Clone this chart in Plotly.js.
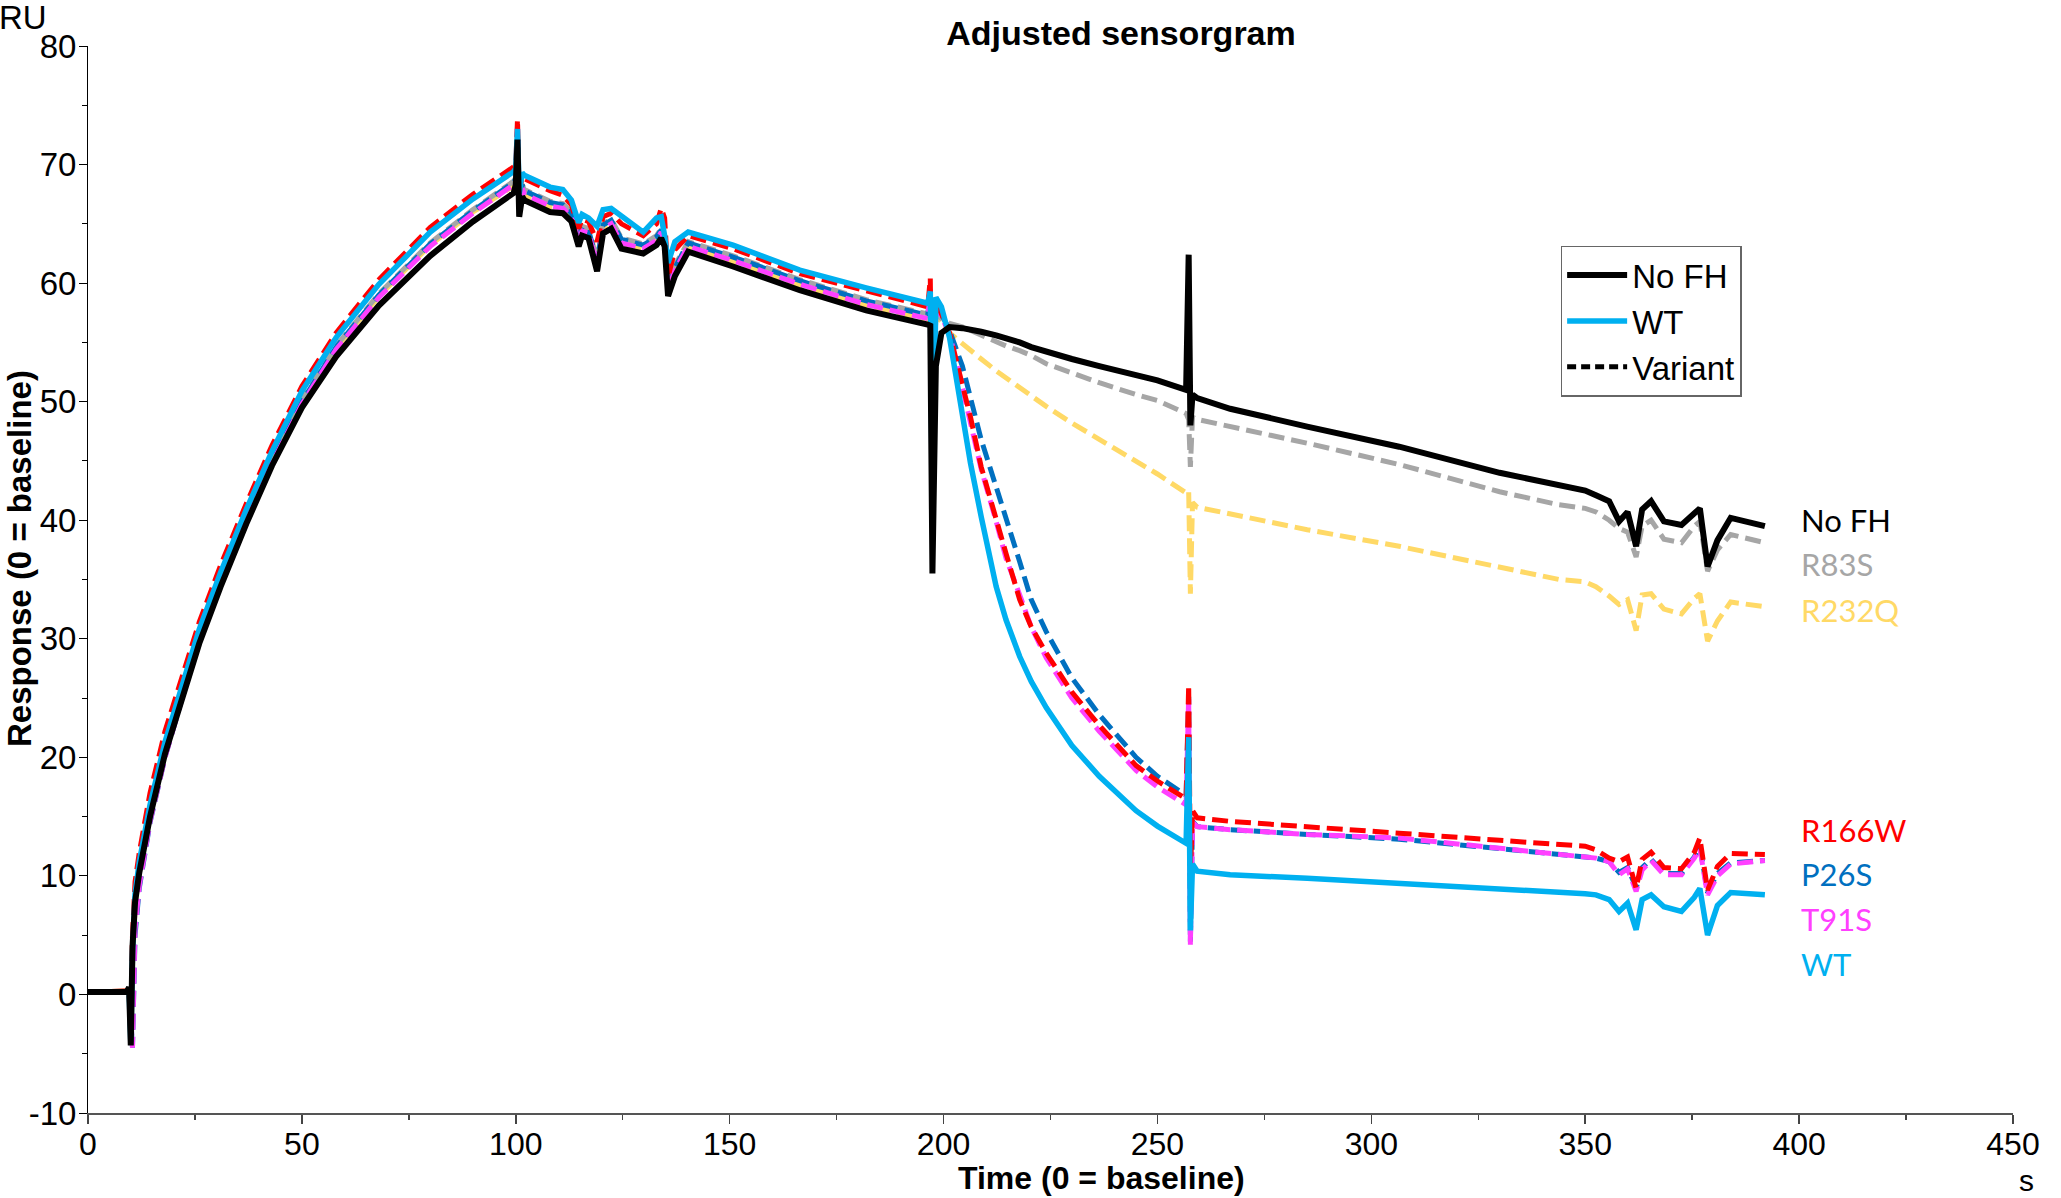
<!DOCTYPE html>
<html>
<head>
<meta charset="utf-8">
<script src="https://cdn.plot.ly/plotly-3.0.1.min.js"></script>
<style>
  html, body { margin: 0; padding: 0; background: #fff; }
  #chart { width: 2061px; height: 1198px; }
</style>
</head>
<body>
<div id="chart"></div>
<script>
// Tempo (s) comum a todas as curvas
const time = [
  0, 9, 9.6, 10, 10.4, 11, 12, 14.5, 18, 22, 26, 31, 37, 43, 50, 58, 68, 80, 90, 99.5,
  100, 100.4, 100.8, 101.5,
  102, 108, 111, 113, 114.3, 114.7, 115.5, 117, 119, 120.4, 122.3, 124.7, 129.8, 132.9, 134, 134.8, 135.6, 137.2, 140.3,
  150.8, 166.4, 181.9, 196.3,
  196.9, 197.4, 198.2, 199.5, 201.4,
  204.4, 206.3, 208.8, 212.3, 214.6, 217.8, 220.5, 224, 230, 236.4, 245, 250, 256.7,
  257.3, 257.7, 258.2, 259.3,
  267, 285, 306.5, 330, 343.9, 350,
  352.5, 355.6, 357.9, 359.9, 361.9, 363.3, 365.4, 368.4, 372.5, 375.5, 376.8, 378.6, 380.9, 384, 392
];

// Resposta (RU) de cada amostra
const noFH = [
  0.2, 0.2, 0.6, -4.3, 4, 7.8, 10.3, 15, 20.3, 25, 29.6, 34.4, 39.7, 44.6, 49.5, 53.8, 58.1, 62.3, 65.2, 67.6,
  68.3, 72.1, 65.6, 67.3,
  67.0, 66.0, 65.9, 65.2, 63.5, 63.1, 64.0, 63.8, 61.0, 64.2, 64.6, 62.9, 62.5, 63.2, 63.8, 63.1, 58.9, 60.6, 62.65,
  61.4, 59.4, 57.7, 56.5,
  56.4, 35.5, 53, 55.8, 56.3,
  56.2, 56.1, 55.9, 55.6, 55.4, 55.0, 54.6, 54.2, 53.6, 53.0, 52.2, 51.8, 51.0,
  62.4, 48.0, 50.6, 50.3,
  49.4, 47.9, 46.2, 44.0, 43.0, 42.5,
  42.1, 41.6, 39.9, 40.7, 37.8, 40.9, 41.6, 39.9, 39.6, 40.6, 41.0, 36.1, 38.3, 40.2, 39.5
];
const wt = [
  0.2, 0.2, 0.4, -4, 3.5, 8.5, 11.2, 16, 21.3, 26.1, 30.8, 35.6, 40.9, 45.8, 50.9, 55.4, 59.9, 64.3, 67.1, 69.4,
  69.7, 73.0, 67.5, 69.3,
  69.1, 68.1, 67.9, 67.0, 65.5, 65.1, 65.8, 65.5, 64.8, 66.2, 66.3, 65.7, 64.3, 65.5, 65.6, 64.0, 61.7, 63.5, 64.3,
  63.2, 61.1, 59.6, 58.3,
  59.3, 40.3, 58.8, 58.0, 55.4,
  48.7, 44.8, 40.3, 34.4, 31.6, 28.5, 26.4, 24.2, 21.0, 18.4, 15.5, 14.2, 12.75,
  21.7, 5.4, 11.0, 10.4,
  10.1, 9.8, 9.4, 8.9, 8.7, 8.5,
  8.4, 8.0, 7.0, 7.7, 5.45, 8.0, 8.4, 7.4, 7.0, 8.2, 8.95, 5.0, 7.5, 8.6, 8.4
];
const r83s = [
  0.2, 0.2, 0.3, -4, 3, 8, 10.8, 15.5, 20.8, 25.6, 30.2, 35, 40.3, 45.2, 50.2, 54.7, 59.1, 63.4, 66.2, 68.6,
  68.9, 72.5, 67, 68.3,
  67.9, 66.9, 66.7, 66.0, 64.3, 64.0, 64.8, 64.6, 62.0, 65.0, 65.4, 63.8, 63.3, 64.0, 64.6, 64.0, 59.8, 61.5, 63.5,
  62.3, 60.3, 58.6, 57.4,
  58.5, 46, 57.5, 57.0, 56.6,
  56.3, 56.0, 55.6, 55.1, 54.7, 54.3, 53.9, 53.2, 52.4, 51.6, 50.6, 50.1, 49.0,
  48.5, 44.5, 48.7, 48.5,
  47.9, 46.5, 44.7, 42.4, 41.3, 41.0,
  40.7, 40.0, 39.3, 39.0, 36.9, 39.5, 40.0, 38.4, 38.1, 39.5, 39.9, 35.7, 37.5, 38.8, 38.1
];
const r232q = [
  0.2, 0.2, 0.3, -4, 2.5, 7.5, 10.3, 15.2, 20.5, 25.3, 30, 34.8, 40.1, 45, 50, 54.5, 58.9, 63.2, 66, 68.2,
  68.4, 72.5, 66.8, 67.8,
  67.4, 66.4, 66.2, 65.5, 63.8, 63.5, 64.3, 64.1, 61.5, 64.5, 64.9, 63.3, 62.8, 63.5, 64.1, 63.5, 59.3, 61.0, 63.0,
  61.8, 59.8, 58.1, 56.9,
  58.5, 46, 57.2, 56.8, 55.8,
  54.9, 54.3, 53.6, 52.6, 52.0, 51.2, 50.5, 49.6, 48.2, 46.8, 44.9, 43.9, 42.3,
  42.5, 33.8, 41.5, 41.1,
  40.5, 39.2, 37.8, 36.1, 35.0, 34.8,
  34.4, 33.6, 32.9, 33.3, 30.7, 33.7, 33.8, 32.5, 32.1, 33.4, 33.8, 29.8, 31.5, 33.1, 32.7
];
const r166w = [
  0.2, 0.2, 0.3, -3.5, 5, 9.5, 12, 17, 22.2, 26.8, 31.4, 36.2, 41.4, 46.3, 51.3, 55.8, 60.3, 64.7, 67.5, 69.8,
  70.1, 73.8, 67.5, 69.0,
  68.8, 67.8, 67.4, 66.6, 65.0, 64.6, 65.4, 65.2, 63.5, 65.6, 65.9, 65.0, 64.0, 65.0, 66.3, 65.5, 60.5, 62.8, 64.0,
  62.9, 60.8, 59.3, 58.0,
  60.4, 45, 58.5, 57.5, 55.8,
  51.4, 48.7, 44.5, 40.3, 37.2, 33.3, 31.0, 28.8, 25.5, 22.7, 19.3, 18.0, 16.5,
  26.1, 10, 15.5, 14.9,
  14.6, 14.1, 13.6, 13.0, 12.6, 12.5,
  12.2, 11.5, 11.2, 11.6, 8.95, 11.4, 12.0, 10.7, 10.6, 12.0, 13.2, 8.8, 10.8, 11.9, 11.8
];
const p26s = [
  0.2, 0.2, 0.2, -2, -4.5, 5, 9, 14.5, 20, 25, 29.8, 34.8, 40.1, 45, 50, 54.6, 59, 63.3, 66.1, 68.5,
  68.8, 72.8, 66.3, 68.3,
  67.8, 66.8, 66.6, 65.9, 64.2, 63.9, 64.7, 64.5, 61.8, 64.9, 65.3, 63.7, 63.2, 63.9, 64.5, 63.9, 59.6, 61.3, 63.4,
  62.2, 60.2, 58.5, 57.3,
  59.3, 42, 58.4, 57.4, 56.0,
  53.0, 50.3, 46.8, 42.8, 40.3, 36.5, 33.3, 30.6, 26.7, 23.6, 20.0, 18.4, 16.8,
  25.1, 4.45, 14.6, 14.15,
  13.9, 13.5, 13.1, 12.3, 11.75, 11.6,
  11.5, 11.2, 10.3, 10.7, 9.0, 10.7, 11.4, 10.2, 10.2, 11.6, 12.5, 8.6, 10.2, 11.1, 11.3
];
const t91s = [
  0.2, 0.2, 0.2, -2, -4.5, 5.5, 9.2, 14.6, 20, 25, 29.7, 34.6, 39.9, 44.8, 49.8, 54.4, 58.8, 63.1, 65.9, 68.3,
  68.5, 73.2, 66.8, 68.0,
  67.5, 66.5, 66.3, 65.6, 63.9, 63.6, 64.4, 64.2, 61.6, 64.6, 65.0, 63.4, 62.9, 63.6, 64.3, 63.6, 59.4, 61.1, 63.1,
  61.9, 59.9, 58.2, 57.0,
  59.5, 43, 58.0, 57.2, 55.7,
  51.2, 48.3, 44.3, 39.9, 36.8, 33.7, 31.0, 28.4, 25.0, 22.2, 18.9, 17.5, 16.0,
  25.1, 4.2, 14.5, 14.15,
  13.9, 13.5, 13.2, 12.3, 11.8, 11.6,
  11.5, 11.2, 10.1, 10.6, 8.7, 10.5, 11.3, 10.1, 10.1, 11.5, 12.3, 8.4, 10.0, 11.0, 11.3
];

// Marcas dos eixos
const xTicks = [0, 50, 100, 150, 200, 250, 300, 350, 400, 450];
const yTicks = [-10, 0, 10, 20, 30, 40, 50, 60, 70, 80];
const yTickText = ['-10', '0', '10', '20', '30', '40', '50', '60', '70', '80'];

// Rótulos no fim das curvas
const endLabels = ['No FH', 'R83S', 'R232Q', 'R166W', 'P26S', 'T91S', 'WT'];
const endLabelY = [40.0, 36.3, 32.4, 13.9, 10.2, 6.4, 2.6];
const endLabelX = 400;

const COR = {
  'No FH': '#000000', 'WT': '#00B0F0', 'R83S': '#A6A6A6', 'R232Q': '#FFD966',
  'R166W': '#FF0000', 'P26S': '#0070C0', 'T91S': '#FF40FF'
};
const TRACO = '16px,7px';
const FONTE_EIXO = 'Liberation Sans Narrow, Liberation Sans, Arial';

// área do gráfico em pixels (para converter posições de texto)
const L = 88, R = 2013, T = 46, B = 1113;
const px = X => (X - L) / (R - L);
const py = Y => (B - Y) / (B - T);

function curva(nome, y, tracejado, extra) {
  return Object.assign({
    type: 'scatter', mode: 'lines', name: nome, x: time, y: y,
    line: { color: COR[nome], width: tracejado ? 5 : (nome === 'No FH' ? 6 : 5.5), dash: tracejado ? TRACO : 'solid' },
    showlegend: false, hoverinfo: 'skip'
  }, extra || {});
}

const data = [
  curva('R232Q', r232q, true),
  curva('R83S', r83s, true),
  curva('P26S', p26s, true),
  curva('T91S', t91s, true),
  curva('R166W', r166w, true),
  curva('WT', wt, false, { showlegend: true, legendrank: 2 }),
  curva('No FH', noFH, false, { showlegend: true, legendrank: 1 }),
  // entrada só de legenda
  { type: 'scatter', mode: 'lines', name: 'Variant', x: [null], y: [null],
    line: { color: '#000', width: 5, dash: '9px,5px' }, showlegend: true, legendrank: 3 }
];

const annotations = endLabels.map((txt, i) => ({
  x: endLabelX, y: endLabelY[i], xref: 'x', yref: 'y', xanchor: 'left', yanchor: 'middle',
  text: txt, showarrow: false, font: { family: 'Lato, Noto Sans, sans-serif', size: 31, color: COR[txt] }
}));

annotations.push(
  { x: px(23), y: py(18), xref: 'paper', yref: 'paper', xanchor: 'center', yanchor: 'middle',
    text: 'RU', showarrow: false, font: { family: FONTE_EIXO, size: 33, color: '#000' } },
  { x: px(2026), y: py(1180), xref: 'paper', yref: 'paper', xanchor: 'center', yanchor: 'middle',
    text: 's', showarrow: false, font: { family: FONTE_EIXO, size: 30, color: '#000' } },
  { x: px(1101), y: py(1178), xref: 'paper', yref: 'paper', xanchor: 'center', yanchor: 'middle',
    text: '<b>Time (0 = baseline)</b>', showarrow: false, font: { family: FONTE_EIXO, size: 32, color: '#000' } },
  { x: px(19), y: py(559), xref: 'paper', yref: 'paper', xanchor: 'center', yanchor: 'middle', textangle: -90,
    text: '<b>Response (0 = baseline)</b>', showarrow: false, font: { family: FONTE_EIXO, size: 33, color: '#000' } }
);

const layout = {
  width: 2061, height: 1198,
  margin: { l: L, r: 2061 - R, t: T, b: 1198 - B },
  paper_bgcolor: '#fff', plot_bgcolor: '#fff',
  font: { family: FONTE_EIXO, color: '#000', size: 32 },
  title: { text: '<b>Adjusted sensorgram</b>', x: 1121 / 2061, xref: 'container', y: 1 - 33 / 1198, yref: 'container',
           xanchor: 'center', yanchor: 'middle', font: { size: 34, color: '#000' } },
  xaxis: {
    range: [0, 450], tickvals: xTicks, showgrid: false, zeroline: false,
    showline: true, linecolor: '#555', linewidth: 2,
    ticks: 'outside', ticklen: 9, tickcolor: '#444', tickwidth: 1.5,
    minor: { dtick: 25, tick0: 0, ticks: 'outside', ticklen: 5, tickcolor: '#444' },
    tickfont: { size: 32 }, ticklabelstandoff: -7
  },
  yaxis: {
    range: [-10, 80], tickvals: yTicks, ticktext: yTickText, showgrid: false, zeroline: false,
    showline: true, linecolor: '#000', linewidth: 1,
    ticks: 'outside', ticklen: 8, tickcolor: '#000', tickwidth: 1,
    minor: { dtick: 5, tick0: 0, ticks: 'outside', ticklen: 5, tickcolor: '#000' },
    tickfont: { size: 33 }, ticklabelstandoff: -4
  },
  legend: {
    x: 0.765, y: 0.813, xanchor: 'left', yanchor: 'top',
    bgcolor: '#fff', bordercolor: '#666', borderwidth: 1.5,
    font: { family: 'Liberation Sans, Arial', size: 33, color: '#000' },
    tracegroupgap: 0, itemwidth: 60
  },
  annotations: annotations
};

Plotly.newPlot('chart', data, layout, { displayModeBar: false, staticPlot: true });
</script>
</body>
</html>
